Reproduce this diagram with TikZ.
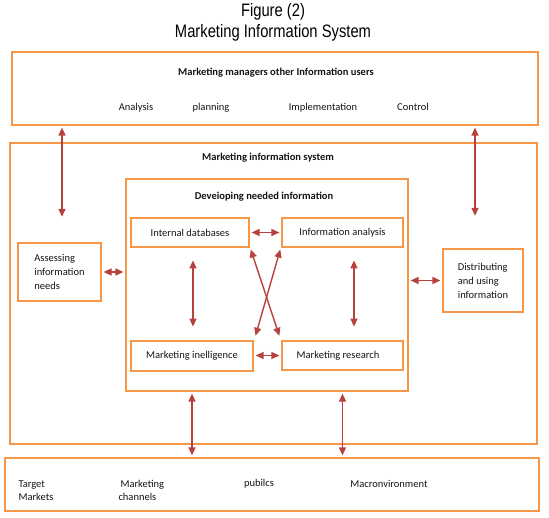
\documentclass[tikz,border=0pt]{standalone}
\usepackage{fontspec}
\setmainfont{Carlito}
\newfontfamily\titlefont[FakeStretch=0.82]{Liberation Sans}
\usepackage{tikz}
\usetikzlibrary{positioning, arrows.meta}
\usepackage{xcolor}
\definecolor{boxOrange}{RGB}{247, 150, 70}
\definecolor{linkRed}{RGB}{183, 65, 60}
\definecolor{inkGray}{RGB}{20, 20, 20}

\tikzset{
  frame/.style={draw=boxOrange, line width=2.8pt, inner sep=0pt, text=inkGray,
    font=\fontsize{10.5}{14}\selectfont},
  link/.style={draw=linkRed, line width=1.4pt, shorten <=1.2pt, shorten >=1.2pt,
    {Triangle[length=8pt, width=7pt]}-{Triangle[length=8pt, width=7pt]}},
  lbl/.style={text=inkGray, font=\fontsize{10.5}{13}\selectfont},
  head/.style={text=inkGray, font=\fontsize{10.5}{13}\selectfont\bfseries}
}

\begin{document}
\begin{tikzpicture}[x=1pt, y=-1pt]
  \useasboundingbox (0,0) rectangle (549,518);

  % Title
  \node[font=\titlefont\fontsize{18}{20}\selectfont] (fignum) at (273,12) {Figure (2)};
  \node[font=\titlefont\fontsize{18}{20}\selectfont] (figtitle) at (273,33) {Marketing Information System};

  % Frames
  \node[frame, minimum width=526pt, minimum height=73pt] (users) at (275,88.5) {};
  \node[frame, minimum width=527pt, minimum height=301pt] (mis) at (273.5,293.5) {};
  \node[frame, minimum width=282pt, minimum height=212pt] (dev) at (267,285) {};
  \node[frame, minimum width=534pt, minimum height=53pt] (env) at (272,484.5) {};

  \node[head] (usersHead) at (276,73) {Marketing managers other Information users};
  \node[lbl, anchor=base] (analysis) at (136,110.5) {Analysis};
  \node[lbl, anchor=base] (planning) at (211,110.5) {planning};
  \node[lbl, anchor=base] (implement) at (323,110.5) {Implementation};
  \node[lbl, anchor=base] (control) at (413,110.5) {Control};

  \node[head] (misHead) at (268,158) {Marketing information system};
  \node[head] (devHead) at (264,197) {Deveioping needed information};

  % Inner boxes
  \node[frame, minimum width=118pt, minimum height=29pt] (intdb) at (190,232.5) {Internal databases};
  \node[frame, minimum width=121pt, minimum height=29pt] (infoan) at (342.5,232.5) {Information analysis};
  \node[frame, minimum width=122pt, minimum height=30pt] (mktint) at (192,356) {Marketing inelligence};
  \node[frame, minimum width=121pt, minimum height=29pt] (mktres) at (342.5,355.5) {Marketing research\hspace*{9pt}};

  \node[frame, minimum width=83pt, minimum height=58pt, align=left] (assess) at (59.5,272)
    {Assessing\\information\\needs};
  \node[frame, minimum width=80pt, minimum height=63pt, align=left] (distrib) at (483,280.5)
    {Distributing\\and using\\information};

  % Environment
  \node[lbl, align=left, anchor=west] (target) at (15,490.5) {Target\\Markets};
  \node[lbl, align=left, anchor=west] (channels) at (115,490.5) {\hspace*{2pt}Marketing\\channels};
  \node[lbl] (publics) at (259,484) {pubilcs};
  \node[lbl] (macro) at (389,484) {Macronvironment};

  % Connectors
  \coordinate (usersL) at (62,218);
  \coordinate (usersR) at (475,217);
  \draw[link] (usersL |- users.south) -- (usersL);
  \draw[link] (usersR |- users.south) -- (usersR);
  \draw[link] (assess.east) -- (assess.east -| dev.west);
  \draw[link] (distrib.west -| dev.east) -- (distrib.west);
  \draw[link] (intdb.east) -- (infoan.west);
  \draw[link] (mktint.east |- mktres.west) -- (mktres.west);
  \draw[link, shorten <=12pt, shorten >=13pt] ([xshift=3pt]intdb.south) -- ([xshift=1pt]mktint.north);
  \draw[link, shorten <=12pt, shorten >=13pt] ([xshift=11.5pt]infoan.south) -- ([xshift=11.5pt]mktres.north);
  \draw[link, shorten >=4pt] (intdb.south east) -- (mktres.north west);
  \draw[link, shorten >=4pt] (infoan.south west) -- (mktint.north east);
  \draw[link] (mktint.north |- dev.south) -- (mktint.north |- env.north);
  \draw[link] (mktres.north |- dev.south) -- (mktres.north |- env.north);
\end{tikzpicture}
\end{document}
